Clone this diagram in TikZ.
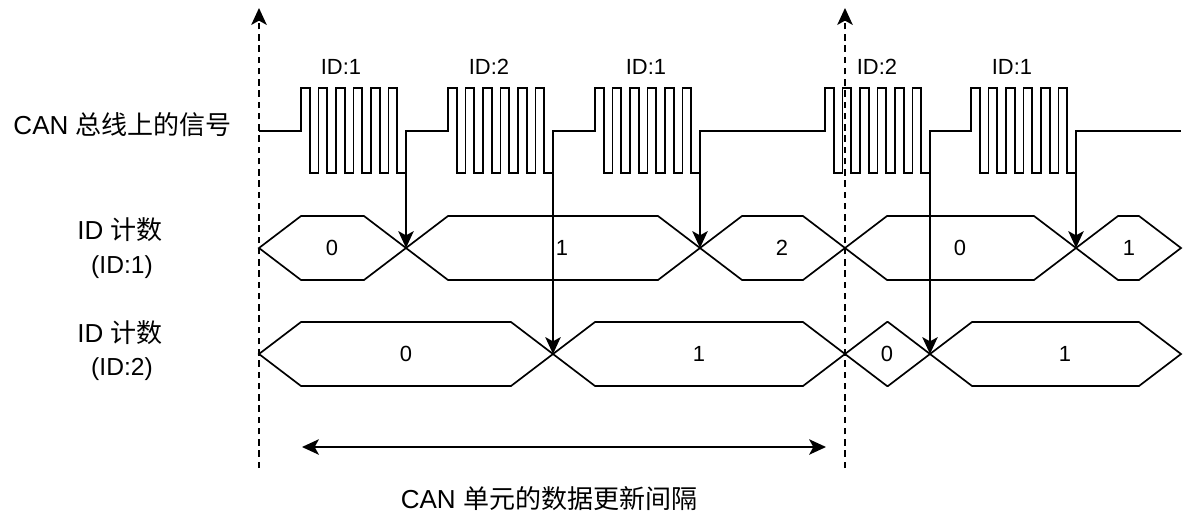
\documentclass[tikz,border=0pt]{standalone}
\usepackage{fontspec}
\setmainfont{Liberation Sans}
\newfontfamily\cjk{Noto Sans CJK SC}
\usetikzlibrary{arrows.meta}

\begin{document}
\begin{tikzpicture}[x=0.025cm,y=-0.025cm,
  >={Stealth[length=12pt,width=11pt,inset=3pt]},
  wire/.style={line width=1.2pt,line join=miter},
  guide/.style={line width=1.2pt,dash pattern=on 4.5pt off 3.5pt},
  big/.style={font=\fontsize{18.5pt}{22pt}\selectfont,inner sep=0pt},
  mid/.style={font=\fontsize{17.5pt}{21pt}\selectfont,inner sep=0pt},
  small/.style={font=\fontsize{15.6pt}{19pt}\selectfont,inner sep=0pt}]
\useasboundingbox (0,0) rectangle (1184,515);

% update instants
\coordinate (g0b) at (259,468); \coordinate (g0t) at (259,8);
\coordinate (g1b) at (845,468); \coordinate (g1t) at (845,8);
\draw[guide,->] (g0b) -- (g0t);
\draw[guide,->] (g1b) -- (g1t);

% bus signal
\node[big,anchor=east] (bus) at (232,125) {CAN {\cjk 总线上的信号}};
\draw[wire] (259,131)
  \foreach \x [count=\n] in {301,448,595,825,971} {
    -- (\x,131) -- (\x,88)
    \foreach \i in {1,...,5} { -- ++(8.75,0) -- ++(0,85) -- ++(8.75,0) -- ++(0,-85) }
    -- ++(8.75,0) -- ++(0,85) -- ++(8.75,0) coordinate (f\n) -- ++(0,-42)
  } -- (1181,131);
\node[small] (id1) at (341,67) {ID:1};
\node[small] (id2) at (489,67) {ID:2};
\node[small] (id3) at (646,67) {ID:1};
\node[small] (id4) at (877,67) {ID:2};
\node[small] (id5) at (1012,67) {ID:1};

% counters
\node[big] (cnt1) at (120,230) {ID {\cjk 计数}};
\node[mid] (cnt1id) at (122,267) {(ID:1)};
\node[big] (cnt2) at (120,333) {ID {\cjk 计数}};
\node[mid] (cnt2id) at (122,369) {(ID:2)};
\foreach \a/\b/\c in {259/406/248,406/700/248,700/845/248,845/1076/248,1076/1181/248,
                      259/553/354,553/845/354,845/930/354,930/1181/354}
  \draw[wire] (\a,\c) -- (\a+42,\c-32) -- (\b-42,\c-32) -- (\b,\c)
    -- (\b-42,\c+32) -- (\a+42,\c+32) -- cycle;
\node[small] (v11) at (332,248) {0};
\node[small] (v12) at (562,248) {1};
\node[small] (v13) at (782,248) {2};
\node[small] (v14) at (960,248) {0};
\node[small] (v15) at (1129,248) {1};
\node[small] (v21) at (406,354) {0};
\node[small] (v22) at (699,354) {1};
\node[small] (v23) at (887,354) {0};
\node[small] (v24) at (1065,354) {1};

% frame end -> counter step
\coordinate (x1) at (406,248); \coordinate (x2) at (553,354);
\coordinate (x3) at (700,248); \coordinate (x4) at (930,354);
\coordinate (x5) at (1076,248);
\foreach \n in {1,...,5} \draw[wire,->] (f\n) -- (x\n);

% update interval
\coordinate (span0) at (302,447); \coordinate (span1) at (826,447);
\draw[wire,<->] (span0) -- (span1);
\node[big] (span) at (549,499) {CAN {\cjk 单元的数据更新间隔}};
\end{tikzpicture}
\end{document}
